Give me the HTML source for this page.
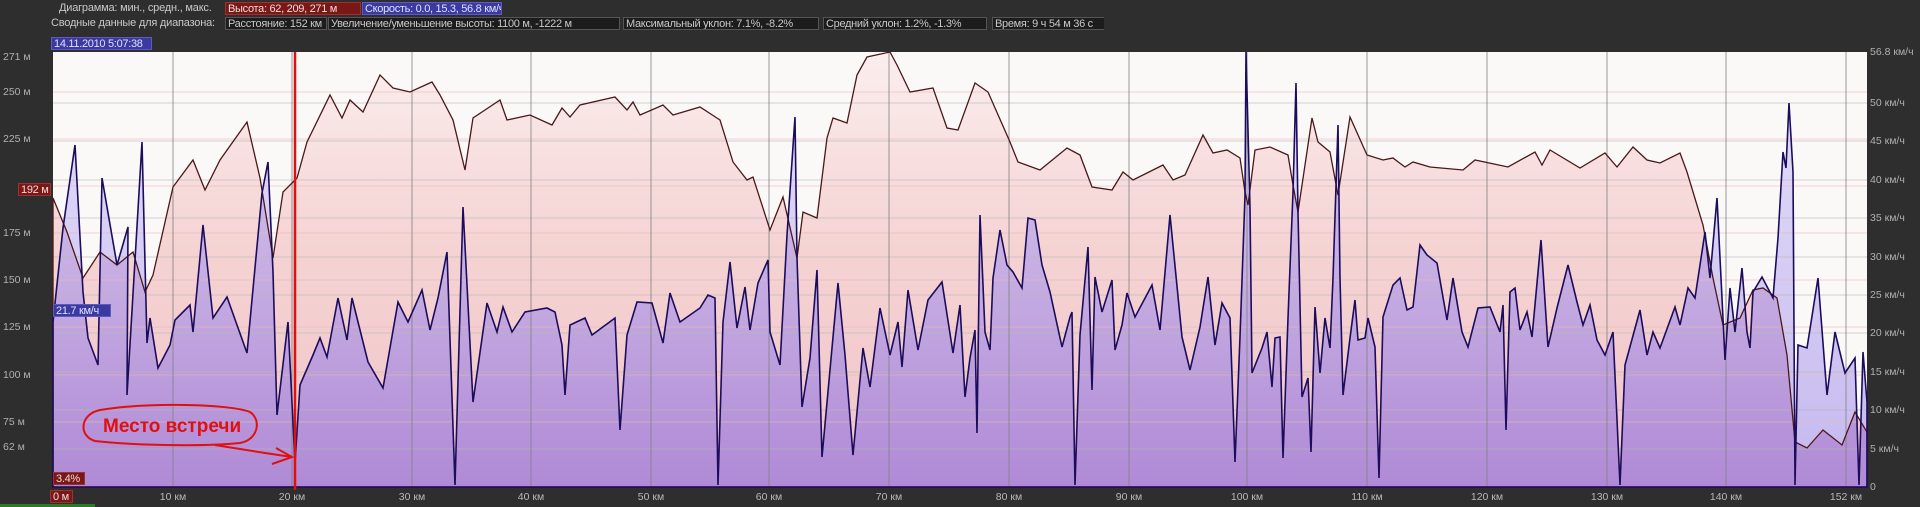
<!DOCTYPE html>
<html><head><meta charset="utf-8"><style>
html,body{margin:0;padding:0;background:#2e2e2e;width:1920px;height:507px;overflow:hidden}
body{position:relative;font-family:"Liberation Sans",sans-serif;font-size:11px;color:#c8c8c8}
.t{position:absolute;white-space:nowrap;line-height:13px;letter-spacing:-0.2px}
.b{position:absolute;white-space:nowrap;overflow:hidden;line-height:12px;height:13px;padding:0 2px;box-sizing:border-box;border:1px solid #555;background:#1c1c1c;color:#c8c8c8;letter-spacing:-0.3px}
.yl{position:absolute;left:3px;color:#b0b0b0;line-height:12px;font-size:10.5px}
.yr{position:absolute;left:1870px;color:#b0b0b0;line-height:12px;font-size:10.5px}
.xl{position:absolute;top:491px;color:#b8b8b8;transform:translateX(-50%);font-size:10.5px}
</style></head><body>
<div class="t" style="left:59px;top:2px">Диаграмма: мин., средн., макс.</div>
<div class="b" style="left:225px;top:2px;width:136px;background:#7a1818;border-color:#a03030;color:#f0dada">Высота: 62, 209, 271 м</div>
<div class="b" style="left:362px;top:2px;width:140px;background:#3a3aa0;border-color:#5a5ac0;color:#e0e0ff">Скорость: 0.0, 15.3, 56.8 км/ч</div>
<div class="t" style="left:51px;top:17px">Сводные данные для диапазона:</div>
<div class="b" style="left:225px;top:17px;width:102px">Расстояние: 152 км</div>
<div class="b" style="left:328px;top:17px;width:292px">Увеличение/уменьшение высоты: 1100 м, -1222 м</div>
<div class="b" style="left:623px;top:17px;width:196px">Максимальный уклон: 7.1%, -8.2%</div>
<div class="b" style="left:823px;top:17px;width:164px">Средний уклон: 1.2%, -1.3%</div>
<div class="b" style="left:992px;top:17px;width:112px;border-right:none">Время: 9 ч 54 м 36 с</div>
<div class="b" style="left:51px;top:37px;width:101px;background:#3a3aa0;border-color:#5a5ac0;color:#e0e0ff">14.11.2010 5:07:38</div>

<svg width="1920" height="507" style="position:absolute;left:0;top:0">
<defs>
<linearGradient id="gp" x1="0" y1="52" x2="0" y2="487" gradientUnits="userSpaceOnUse">
<stop offset="0" stop-color="#fbeeee"/><stop offset="0.45" stop-color="#f5d3d3"/><stop offset="1" stop-color="#f0c4c8"/></linearGradient>
<linearGradient id="gl" x1="0" y1="52" x2="0" y2="487" gradientUnits="userSpaceOnUse">
<stop offset="0" stop-color="#e6e0fa"/><stop offset="1" stop-color="#c4b8ee"/></linearGradient>
<linearGradient id="gu" x1="0" y1="52" x2="0" y2="487" gradientUnits="userSpaceOnUse">
<stop offset="0" stop-color="#d8c8ee"/><stop offset="0.5" stop-color="#c6aee2"/><stop offset="1" stop-color="#b08ad6"/></linearGradient>
<polygon id="altp" points="53,487 53,198 67,232 83,278 100,252 117,265 133,252 145,292 153,275 173,187 193,160 205,190 220,160 247,122 260,178 273,258 283,192 297,178 307,142 330,95 342,118 350,100 363,112 380,75 393,88 410,92 432,82 440,95 453,120 465,170 473,118 500,100 507,120 530,115 552,125 562,108 570,117 580,105 615,97 627,110 633,102 640,115 663,105 673,115 700,107 720,120 733,162 747,180 753,177 770,230 783,197 797,258 803,212 817,218 827,138 833,118 847,123 857,75 867,57 890,52 897,65 910,92 933,88 947,128 958,130 975,83 988,92 1010,142 1018,162 1040,170 1067,148 1080,155 1092,187 1112,190 1123,172 1133,180 1163,165 1173,180 1185,175 1203,135 1213,153 1227,150 1240,158 1245,192 1248,205 1255,150 1270,147 1288,155 1293,185 1298,212 1312,118 1318,142 1330,152 1338,195 1350,117 1367,155 1383,160 1393,158 1405,167 1413,162 1430,167 1463,170 1475,160 1508,167 1535,152 1542,165 1550,150 1580,168 1605,153 1617,167 1633,147 1647,160 1660,163 1680,153 1687,172 1703,225 1713,278 1723,325 1740,318 1753,290 1763,288 1777,298 1787,355 1795,442 1807,448 1823,430 1842,445 1855,412 1867,432 1867,487"/>
<clipPath id="ca"><use href="#altp"/></clipPath>
<polygon id="spp" points="53,487 53,322 63,228 75,145 83,292 88,338 98,365 102,178 117,265 128,227 127,395 142,142 147,343 150,318 158,368 170,345 175,320 190,305 193,332 203,225 213,318 227,297 247,353 262,193 268,162 273,272 277,415 288,322 295,463 300,385 313,355 320,338 327,357 338,298 347,340 352,298 368,362 383,388 398,302 408,322 422,290 430,330 438,298 447,252 455,485 463,207 473,402 487,303 497,332 503,307 512,332 525,312 547,308 555,312 562,345 565,395 570,325 585,318 592,335 615,318 620,430 627,335 637,302 652,303 663,343 670,293 680,322 700,308 708,295 715,298 718,485 723,322 730,262 737,328 745,287 750,330 758,283 768,260 770,332 780,365 787,235 795,117 797,258 802,407 810,358 817,270 822,457 832,348 838,283 845,355 853,455 863,348 870,387 880,308 890,355 898,322 902,367 908,290 918,350 928,300 942,282 953,353 960,305 965,397 970,358 975,330 977,433 980,215 985,332 990,350 993,278 1000,230 1007,265 1013,272 1022,288 1028,218 1035,220 1042,265 1050,292 1062,347 1070,317 1072,312 1075,485 1080,335 1088,247 1092,390 1095,277 1102,312 1112,280 1115,350 1122,325 1127,293 1135,317 1152,285 1160,330 1170,215 1182,337 1190,370 1200,327 1208,277 1215,345 1222,303 1230,318 1235,462 1240,337 1245,195 1246,52 1250,208 1252,373 1262,348 1267,332 1272,387 1275,338 1280,337 1283,458 1288,318 1293,192 1296,83 1298,212 1302,397 1308,378 1311,452 1315,307 1320,373 1325,318 1330,348 1333,278 1338,125 1340,278 1343,395 1350,338 1355,300 1358,340 1365,338 1368,318 1375,347 1379,478 1383,317 1393,285 1400,278 1407,310 1413,307 1420,245 1427,255 1437,263 1447,320 1453,278 1462,332 1468,347 1478,308 1490,307 1500,332 1503,305 1506,430 1510,292 1515,288 1520,330 1527,312 1532,337 1541,240 1548,347 1557,308 1568,265 1577,302 1583,325 1590,305 1597,340 1605,355 1613,332 1620,485 1625,365 1640,310 1647,355 1653,332 1660,348 1675,307 1680,325 1688,288 1695,298 1705,232 1710,278 1717,198 1722,298 1725,360 1730,288 1735,332 1742,268 1747,332 1750,348 1753,292 1762,277 1773,298 1778,238 1783,152 1786,168 1789,103 1793,172 1795,485 1798,345 1807,348 1818,278 1827,395 1835,332 1845,373 1855,358 1859,485 1863,352 1867,402 1867,487"/>
</defs>
<rect x="53" y="52" width="1814" height="435" fill="#fbf9f8"/>
<use href="#altp" fill="url(#gp)"/>
<use href="#spp" fill="url(#gl)"/>
<g clip-path="url(#ca)"><use href="#spp" fill="url(#gu)"/></g>
<g stroke="#b8b8b8" stroke-width="1" opacity="0.6">
<line x1="53" x2="1867" y1="103" y2="103"/><line x1="53" x2="1867" y1="141" y2="141"/><line x1="53" x2="1867" y1="180" y2="180"/><line x1="53" x2="1867" y1="218" y2="218"/><line x1="53" x2="1867" y1="257" y2="257"/><line x1="53" x2="1867" y1="295" y2="295"/><line x1="53" x2="1867" y1="333" y2="333"/><line x1="53" x2="1867" y1="372" y2="372"/><line x1="53" x2="1867" y1="410" y2="410"/><line x1="53" x2="1867" y1="449" y2="449"/>
</g>
<g stroke="#eab8b8" stroke-width="1" opacity="0.6">
<line x1="53" x2="1867" y1="92" y2="92"/><line x1="53" x2="1867" y1="139" y2="139"/><line x1="53" x2="1867" y1="186" y2="186"/><line x1="53" x2="1867" y1="233" y2="233"/><line x1="53" x2="1867" y1="280" y2="280"/><line x1="53" x2="1867" y1="327" y2="327"/><line x1="53" x2="1867" y1="375" y2="375"/><line x1="53" x2="1867" y1="422" y2="422"/>
</g>
<g stroke="#808080" stroke-width="1" opacity="0.8">
<line y1="52" y2="487" x1="173" x2="173"/><line y1="52" y2="487" x1="292" x2="292"/><line y1="52" y2="487" x1="412" x2="412"/><line y1="52" y2="487" x1="531" x2="531"/><line y1="52" y2="487" x1="651" x2="651"/><line y1="52" y2="487" x1="769" x2="769"/><line y1="52" y2="487" x1="889" x2="889"/><line y1="52" y2="487" x1="1009" x2="1009"/><line y1="52" y2="487" x1="1129" x2="1129"/><line y1="52" y2="487" x1="1247" x2="1247"/><line y1="52" y2="487" x1="1367" x2="1367"/><line y1="52" y2="487" x1="1487" x2="1487"/><line y1="52" y2="487" x1="1607" x2="1607"/><line y1="52" y2="487" x1="1726" x2="1726"/><line y1="52" y2="487" x1="1846" x2="1846"/>
</g>
<use href="#altp" fill="none" stroke="#4a1818" stroke-width="1.3"/>
<use href="#spp" fill="none" stroke="#1c0c5c" stroke-width="1.6"/>
<line x1="295" y1="52" x2="295" y2="490" stroke="#e01010" stroke-width="2.5"/>
<path d="M100,410 C150,402 230,404 250,412 C262,420 258,440 240,443 C200,447 130,445 95,441 C78,436 80,414 100,410 Z" fill="none" stroke="#e01010" stroke-width="2"/>
<text x="103" y="432" font-family="Liberation Sans,sans-serif" font-weight="bold" font-size="19" fill="#e01010">Место встречи</text>
<path d="M215,445 L265,453 L292,457 M276,448 L292,457 L272,464" fill="none" stroke="#e01010" stroke-width="2"/>
<rect x="0" y="504" width="95" height="3" fill="#2a7a2a"/>
</svg>

<div class="yl" style="top:51px">271 м</div>
<div class="yl" style="top:86px">250 м</div>
<div class="yl" style="top:133px">225 м</div>
<div class="yl" style="top:227px">175 м</div>
<div class="yl" style="top:274px">150 м</div>
<div class="yl" style="top:321px">125 м</div>
<div class="yl" style="top:369px">100 м</div>
<div class="yl" style="top:416px">75 м</div>
<div class="yl" style="top:441px">62 м</div>
<div class="b" style="left:18px;top:183px;width:33px;background:#7a1818;border-color:#a03030;color:#f0dada">192 м</div>
<div class="b" style="left:53px;top:304px;width:58px;background:#3a3aa0;border-color:#5a5ac0;color:#e0e0ff">21.7 км/ч</div>
<div class="b" style="left:53px;top:472px;width:32px;background:#7a1818;border-color:#a03030;color:#f0dada">3.4%</div>
<div class="b" style="left:50px;top:490px;width:23px;background:#7a1818;border-color:#a03030;color:#f0dada">0 м</div>

<div class="yr" style="top:46px">56.8 км/ч</div>
<div class="yr" style="top:97px">50 км/ч</div>
<div class="yr" style="top:135px">45 км/ч</div>
<div class="yr" style="top:174px">40 км/ч</div>
<div class="yr" style="top:212px">35 км/ч</div>
<div class="yr" style="top:251px">30 км/ч</div>
<div class="yr" style="top:289px">25 км/ч</div>
<div class="yr" style="top:327px">20 км/ч</div>
<div class="yr" style="top:366px">15 км/ч</div>
<div class="yr" style="top:404px">10 км/ч</div>
<div class="yr" style="top:443px">5 км/ч</div>
<div class="yr" style="top:481px">0</div>

<div class="xl" style="left:173px">10 км</div>
<div class="xl" style="left:292px">20 км</div>
<div class="xl" style="left:412px">30 км</div>
<div class="xl" style="left:531px">40 км</div>
<div class="xl" style="left:651px">50 км</div>
<div class="xl" style="left:769px">60 км</div>
<div class="xl" style="left:889px">70 км</div>
<div class="xl" style="left:1009px">80 км</div>
<div class="xl" style="left:1129px">90 км</div>
<div class="xl" style="left:1247px">100 км</div>
<div class="xl" style="left:1367px">110 км</div>
<div class="xl" style="left:1487px">120 км</div>
<div class="xl" style="left:1607px">130 км</div>
<div class="xl" style="left:1726px">140 км</div>
<div class="xl" style="left:1846px">152 км</div>
</body></html>
